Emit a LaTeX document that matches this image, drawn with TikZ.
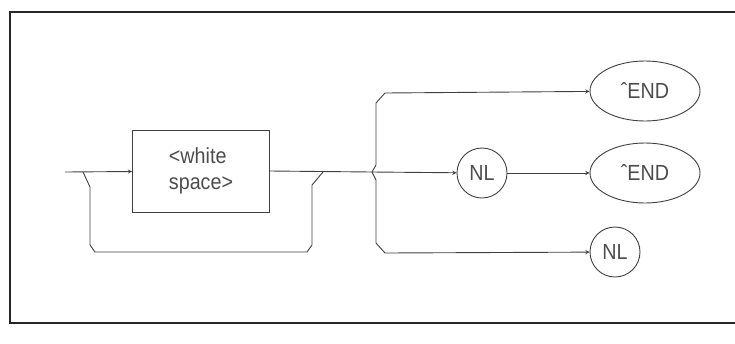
\documentclass[tikz,border=0pt]{standalone}
\usepackage{fontspec}
\setmainfont[FakeStretch=0.9]{Liberation Sans}
\usepackage{tikz}
\usetikzlibrary{shapes.geometric}

\begin{document}
\begin{tikzpicture}[x=1bp, y=-1bp, node distance=163bp, auto,
    font=\fontsize{22}{26}\selectfont, text=black!70,
    block/.style={rectangle, draw, minimum width=137bp, minimum height=82bp, align=left, inner sep=0pt},
    term/.style={circle, draw, minimum size=50bp, inner sep=0pt},
    oval/.style={ellipse, draw, minimum width=110bp, minimum height=60bp, inner sep=0pt},
    arrow/.style={->, >=stealth},
    line/.style={draw=black!75, line width=0.9bp}]

    \useasboundingbox (0,0) rectangle (735,343);
    \draw[line width=1.8bp, black!85] (736,12) -- (10,12) -- (10,323) -- (736,323);

    \begin{scope}[every node/.append style={line}, every path/.append style={line}]
    \node[block] (ws) at (201,171) {<white\\space>};
    \node[term] (nl) at (482,173) {NL};
    \node[oval, right of=nl] (endb) {ˆEND};
    \node[oval, above of=endb, node distance=82bp] (enda) {ˆEND};
    \node[term, below of=nl, xshift=133bp, node distance=79bp] (nlb) {NL};

    \coordinate (in) at (65,172);
    \coordinate (split) at (83,172);
    \coordinate (merge) at (323,172);
    \coordinate (fork) at (372,172);

    \draw[arrow] (in) -- (ws);
    \draw (ws.east) -- (fork);
    \draw[arrow] (fork) -- (nl);
    \draw[arrow] (nl) -- (endb);

    % bypass round the box
    \draw (split) -- (90,187) -- (90,245) -- (95,252) -- (307,252) -- (312,245)
        -- (312,185) -- (merge);

    % brace that splits into three
    \draw[arrow] (fork) -- (376,165) -- (376,103) -- (385,93) -- (enda);
    \draw[arrow] (fork) -- (376,180) -- (376,243) -- (385,253) -- (nlb);
    \end{scope}
\end{tikzpicture}
\end{document}
